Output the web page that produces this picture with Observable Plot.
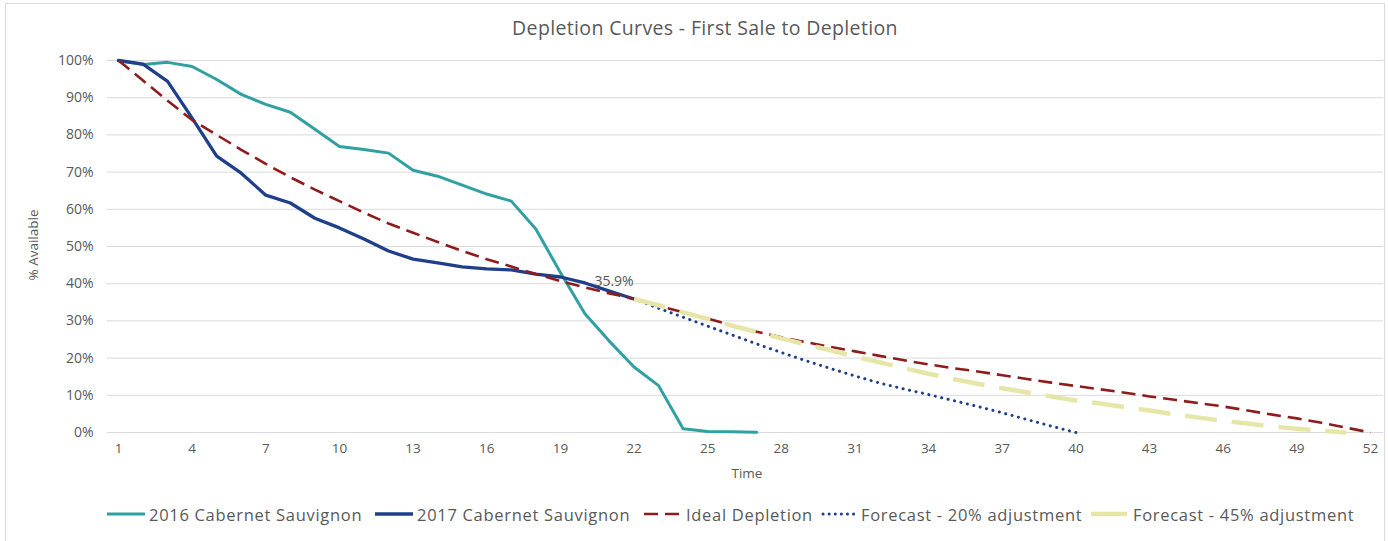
<!DOCTYPE html>
<html>
<head>
<meta charset="utf-8">
<script src="https://cdn.jsdelivr.net/npm/d3@7"></script>
<script src="https://cdn.jsdelivr.net/npm/@observablehq/plot@0.6"></script>
<style>
  html, body { margin: 0; padding: 0; background: #fff; }
  body { font-family: "Open Sans", "Lato", sans-serif; color: #595959; }
  #wrap { position: relative; width: 1388px; height: 541px; overflow: hidden; }
  #frame { position: absolute; left: 5px; top: 3px; width: 1380px; height: 560px; border: 1px solid #d9d9d9; box-sizing: border-box; }
  #title { position: absolute; left: 0; width: 1410px; top: 14px; text-align: center; font-size: 19.5px; letter-spacing: 0.35px; color: #595959; }
  #ylab { position: absolute; left: 33px; top: 245px; transform: translate(-50%, -50%) rotate(-90deg); font-size: 13.5px; white-space: nowrap; }
  #xlab { position: absolute; left: 747px; top: 473px; transform: translate(-50%, -50%); font-size: 13.5px; }
  .lg { position: absolute; top: 504px; height: 20px; display: flex; align-items: center; font-size: 16.5px; letter-spacing: 0.7px; white-space: nowrap; color: #595959; }
  .lg svg { margin-right: 4px; }
  #chart { position: absolute; left: 0; top: 0; }
</style>
</head>
<body>
<div id="wrap">
  <div id="frame"></div>
  <div id="chart"></div>
  <div id="title">Depletion Curves - First Sale to Depletion</div>
  <div id="ylab">% Available</div>
  <div id="xlab">Time</div>
  <div id="legend"></div>
</div>
<script>
// ---- data (percent available by week) ----
const weeks = d3.range(1, 53);
const xTicks = [1, 4, 7, 10, 13, 16, 19, 22, 25, 28, 31, 34, 37, 40, 43, 46, 49, 52];
const yTicks = [0, 10, 20, 30, 40, 50, 60, 70, 80, 90, 100];

const cab2016Start = 1;
const cab2016 = [100, 98.9, 99.5, 98.4, 94.9, 90.9, 88.2, 86.1, 81.5, 76.9, 76.1, 75.1, 70.5, 68.9, 66.5, 64.1, 62.2, 54.7, 43.0, 31.9, 24.5, 17.6, 12.6, 1.0, 0.3, 0.2, 0.1];

const cab2017Start = 1;
const cab2017 = [100, 99.0, 94.4, 84.5, 74.3, 69.7, 63.8, 61.7, 57.6, 55.0, 52.0, 48.8, 46.6, 45.6, 44.5, 44.0, 43.7, 42.6, 41.8, 40.2, 38.0, 35.9];

const idealStart = 1;
const ideal = [100, 94.6, 89.2, 84.0, 80.0, 76.0, 72.2, 68.6, 65.3, 62.2,
               59.1, 56.2, 53.7, 51.2, 48.8, 46.6, 44.6, 42.6, 40.7, 39.0,
               37.4, 35.9, 34.1, 32.3, 30.6, 28.8, 27.1, 25.6, 24.3, 23.0,
               21.8, 20.6, 19.4, 18.3, 17.3, 16.4, 15.4, 14.4, 13.4, 12.5,
               11.6, 10.7, 9.7, 8.8, 7.9, 7.0, 5.9, 4.8, 3.8, 2.6,
               1.3, 0];

const fc20Start = 22;
const fc20 = [35.9, 33.4, 31.0, 28.6, 26.2, 23.8, 21.5, 19.3, 17.2, 15.2, 13.3, 11.7, 10.2, 8.6, 7.0, 5.3, 3.5, 1.7, 0];

const fc45Start = 22;
const fc45 = [35.9, 34.2, 32.3, 30.5, 28.7, 27.0, 25.3, 23.7, 22.1, 20.4,
              18.9, 17.3, 15.8, 14.4, 13.1, 11.9, 10.8, 9.7, 8.6, 7.8,
              6.8, 5.9, 4.9, 4.0, 3.1, 2.4, 1.6, 1.0, 0.5, 0];

const seriesNames = ["2016 Cabernet Sauvignon", "2017 Cabernet Sauvignon", "Ideal Depletion", "Forecast - 20% adjustment", "Forecast - 45% adjustment"];
const dataLabel = "35.9%";

// ---- styles ----
const styles = [
  {stroke: "#31A0A3", strokeWidth: 3, dash: null, cap: "round"},
  {stroke: "#1F3F8B", strokeWidth: 3.3, dash: null, cap: "round"},
  {stroke: "#8E1C1C", strokeWidth: 2.6, dash: "14,7", cap: "butt"},
  {stroke: "#1F3F8B", strokeWidth: 3, dash: "0.1,6.5", cap: "round"},
  {stroke: "#E6E6A8", strokeWidth: 4.5, dash: "32,15", cap: "butt"}
];

const toRows = (vals, start) => vals.map((v, i) => ({t: weeks[start - 1 + i], v}));
const rows = [
  toRows(cab2016, cab2016Start),
  toRows(cab2017, cab2017Start),
  toRows(ideal, idealStart),
  toRows(fc20, fc20Start),
  toRows(fc45, fc45Start)
];

const lineMarks = rows.map((r, i) => Plot.line(r, {
  x: "t", y: "v",
  stroke: styles[i].stroke,
  strokeWidth: styles[i].strokeWidth,
  strokeDasharray: styles[i].dash,
  strokeLinecap: styles[i].cap,
  strokeLinejoin: "round"
}));

const last2017 = rows[1].slice(-1);

const chart = Plot.plot({
  width: 1388,
  height: 541,
  marginTop: 60,
  marginBottom: 109,
  marginLeft: 107,
  marginRight: 5,
  style: {fontFamily: '"Open Sans", sans-serif', color: "#595959", background: "transparent"},
  x: {domain: [1, 52], insetLeft: 11, insetRight: 13, ticks: xTicks, tickSize: 0, tickPadding: 11, label: null},
  y: {domain: [0, 100], ticks: yTicks, tickSize: 0, tickPadding: 14, tickFormat: d => d + "%", label: null},
  marks: [
    Plot.ruleY(yTicks, {stroke: "#d9d9d9", strokeWidth: 1}),
    Plot.axisX({ticks: xTicks, tickSize: 0, tickPadding: 11, fontSize: 13.5, label: null, fill: "#595959"}),
    Plot.axisY({ticks: yTicks, tickSize: 0, tickPadding: 14, fontSize: 14, tickFormat: d => d + "%", label: null, fill: "#595959"}),
    ...lineMarks,
    Plot.text(last2017, {x: "t", y: "v", text: () => dataLabel, dx: -20, dy: -17, fontSize: 14, fill: "#595959"})
  ]
});
document.getElementById("chart").appendChild(chart);

// ---- legend ----
const legendLeft = [107, 375, 644, 821, 1091];
const sampleW = [38, 38, 38, 36, 36];
const legend = document.getElementById("legend");
seriesNames.forEach((name, i) => {
  const s = styles[i];
  const item = document.createElement("div");
  item.className = "lg";
  item.style.left = legendLeft[i] + "px";
  const w = sampleW[i];
  const ns = "http://www.w3.org/2000/svg";
  const svg = document.createElementNS(ns, "svg");
  svg.setAttribute("width", w);
  svg.setAttribute("height", 10);
  const ln = document.createElementNS(ns, "line");
  ln.setAttribute("x1", i === 3 ? 2 : 0);
  ln.setAttribute("x2", i === 3 ? w - 2 : w);
  ln.setAttribute("y1", 5); ln.setAttribute("y2", 5);
  ln.setAttribute("stroke", s.stroke);
  ln.setAttribute("stroke-width", s.strokeWidth);
  if (i === 2) ln.setAttribute("stroke-dasharray", "14,7");
  else if (i === 3) ln.setAttribute("stroke-dasharray", "0.1,6");
  if (s.cap) ln.setAttribute("stroke-linecap", s.cap);
  svg.appendChild(ln);
  item.appendChild(svg);
  const tx = document.createElement("span");
  tx.textContent = name;
  if (i === 4) tx.style.marginLeft = "2px";
  item.appendChild(tx);
  legend.appendChild(item);
});
</script>
</body>
</html>
